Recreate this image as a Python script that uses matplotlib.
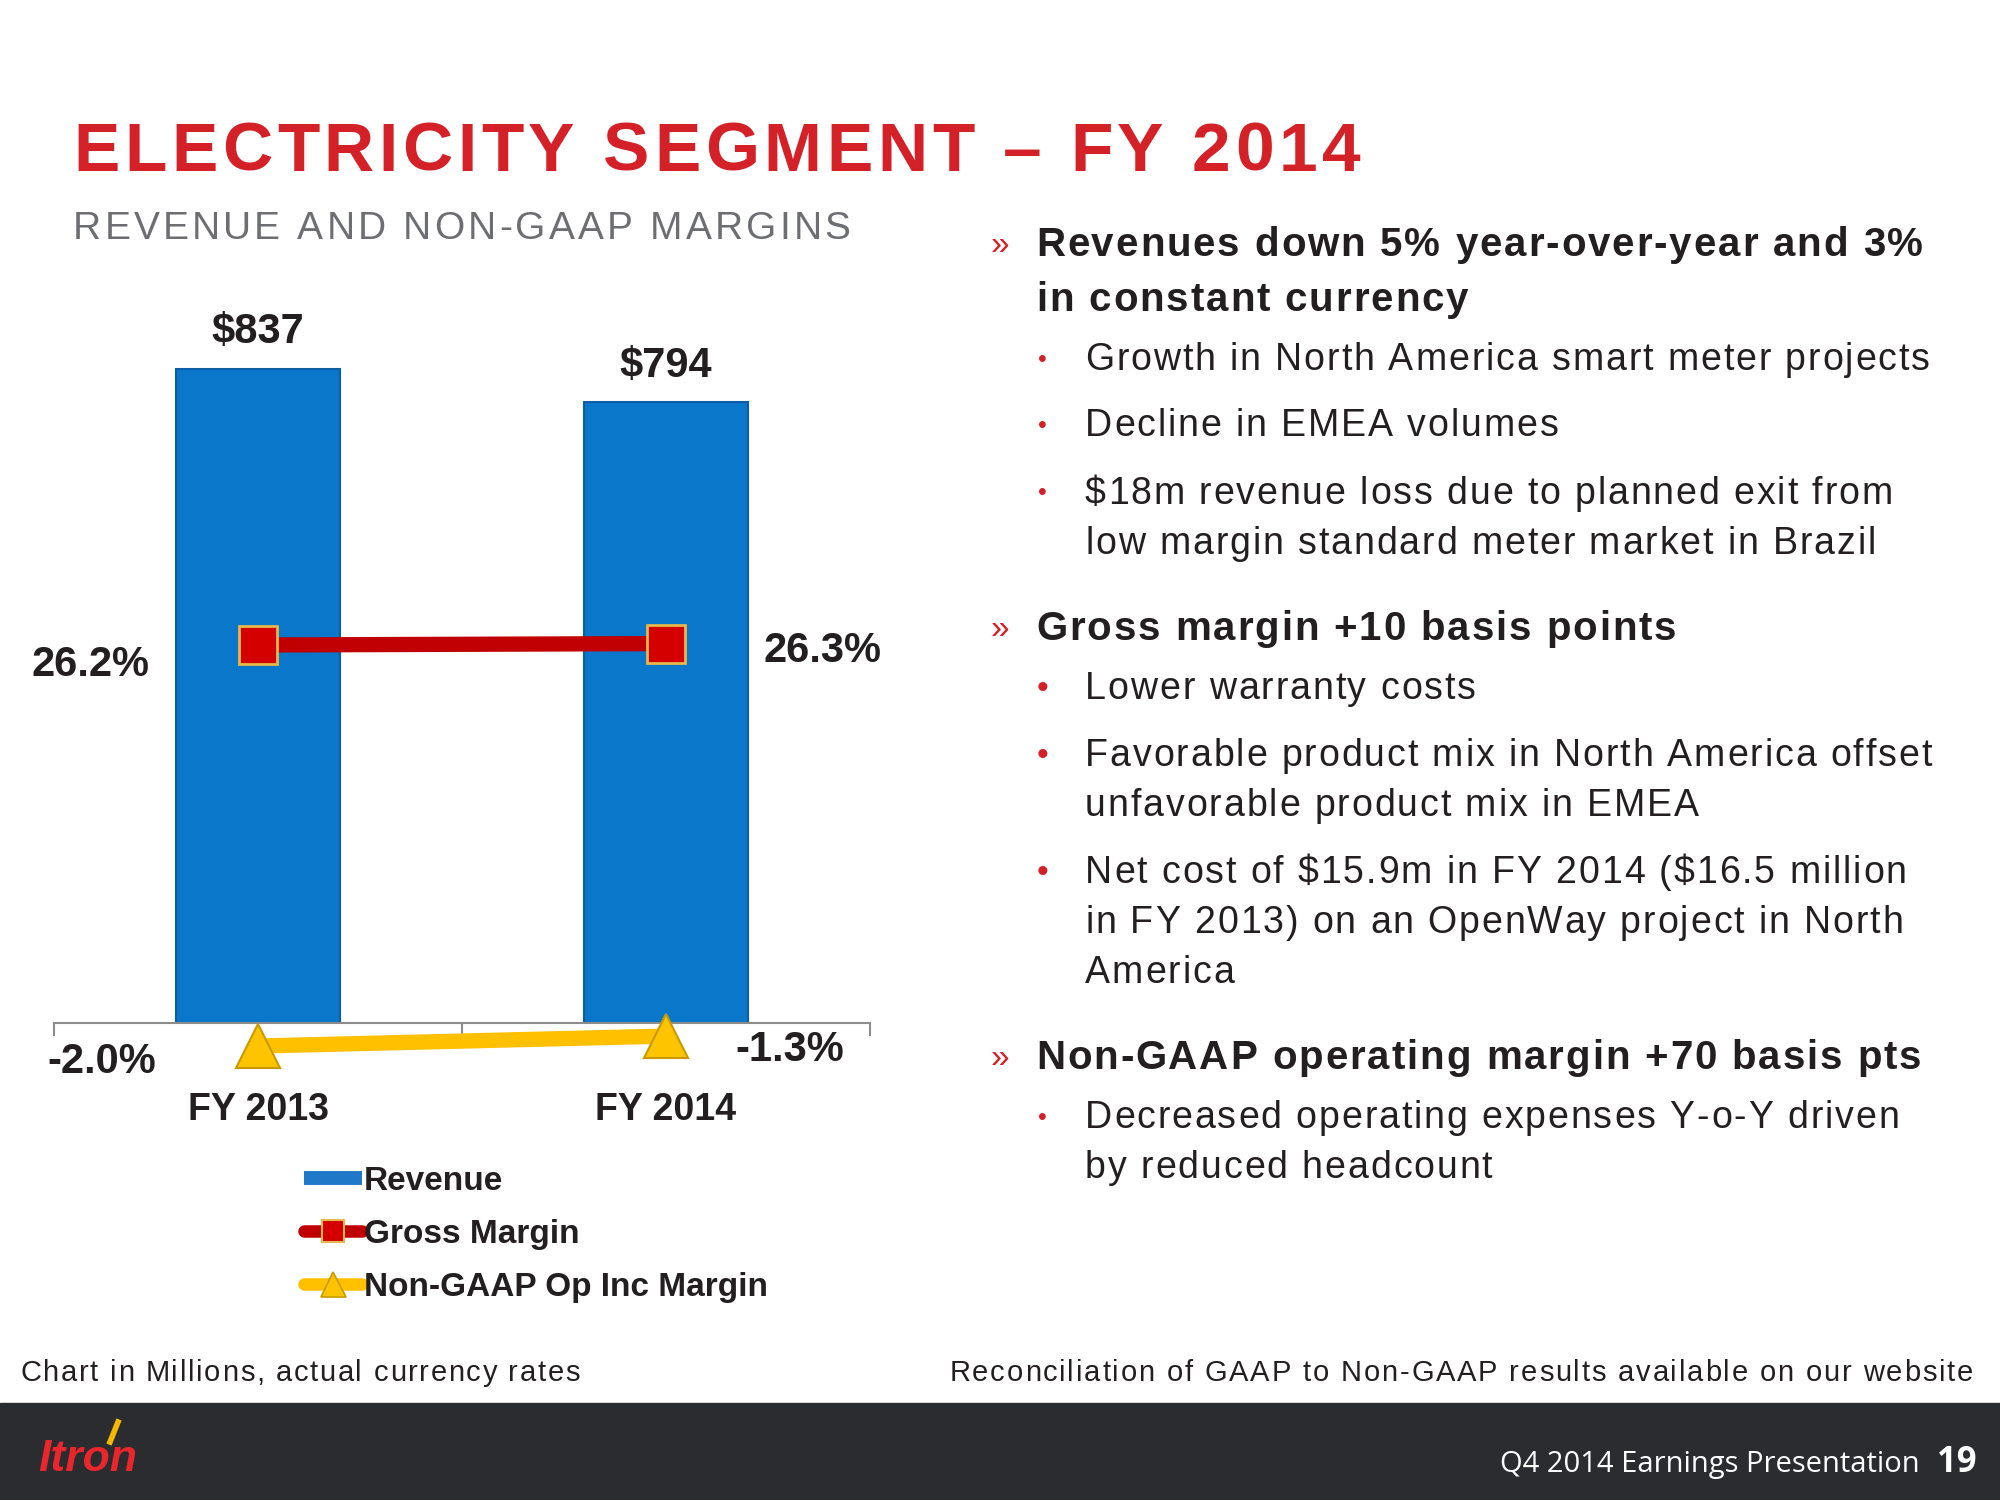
import matplotlib.pyplot as plt
from matplotlib.lines import Line2D
from matplotlib.patches import Rectangle
from matplotlib.font_manager import FontProperties, findfont
from matplotlib.ft2font import FT2Font

plt.rcParams['font.family'] = ['Liberation Sans', 'DejaVu Sans']
plt.rcParams['text.parse_math'] = False

# data
years = ["FY 2013", "FY 2014"]
revenue = [837, 794]            # $ millions
gross_margin = [26.2, 26.3]     # %
op_margin = [-2.0, -1.3]        # %

RED = "#D42128"
BLUE = "#0A77CA"
DARK = "#231F20"
GRAY = "#6D6E71"

W, H = 2000, 1500
DPI = 100


def fx(x):
    return x / W


def fy(y):
    return 1 - y / H


fig = plt.figure(figsize=(20, 15), dpi=DPI)


def tracked(x, y, s, size, track, weight="normal", ha="left", **kw):
    """Draw s with extra letter spacing (track, px). x,y in px, y = cap centre."""
    fp = FontProperties(family="Liberation Sans", weight=weight, size=size)
    font = FT2Font(findfont(fp))
    font.set_size(size, DPI)
    advs = [font.load_char(ord(c)).linearHoriAdvance / 65536 + track for c in s]
    if ha == "right":
        x = x - sum(advs) + track
    base = y + 0.358 * size * DPI / 72
    for c, a in zip(s, advs):
        if c != " ":
            fig.text(fx(x), fy(base), c, fontproperties=fp, va="baseline", **kw)
        x += a


# title block
tracked(73, 146, "ELECTRICITY SEGMENT \u2013 FY 2014", 50, 4.6,
        weight="bold", color=RED)
tracked(73, 225, "REVENUE AND NON-GAAP MARGINS", 28, 3.2, color=GRAY)

# chart
ax = fig.add_axes([fx(54), fy(1023), (870 - 54) / W, (1023 - 300) / H])
x = list(range(len(years)))
bars = ax.bar(x, revenue, width=0.4, color=BLUE, edgecolor="#0B5FA5",
              linewidth=1.5, zorder=2)
ax.set_xlim(-0.5, 1.5)
ax.set_ylim(0, 925)
ax.set_yticks([])
for s in ["top", "right", "left"]:
    ax.spines[s].set_visible(False)
ax.spines["bottom"].set_color("#8C8C8C")
ax.spines["bottom"].set_linewidth(1.5)
ax.set_xticks(x)
ax.set_xticklabels(years, fontsize=27, fontweight="bold", color=DARK)
ax.set_xticks([-0.5, 0.5, 1.5], minor=True)
ax.tick_params(axis="x", which="major", length=0, pad=50)
ax.tick_params(axis="x", which="minor", length=9, width=1.5, color="#8C8C8C")
ax.bar_label(bars, labels=[f"${v}" for v in revenue], padding=12,
             fontsize=30, fontweight="bold", color=DARK)

ax2 = ax.twinx()
ax2.set_ylim(-0.38, 50.46)
ax2.set_yticks([])
for s in ax2.spines.values():
    s.set_visible(False)

ax2.plot(x, gross_margin, color="#C00000", lw=11, marker="s", ms=27,
         mfc="#D40000", mec="#E6B84A", mew=2, clip_on=False, zorder=3)
ax2.plot(x, op_margin, color="#FFC000", lw=11, marker="^", ms=31,
         mfc="#FFC400", mec="#C99A00", mew=1.5, clip_on=False, zorder=3)

gm_offsets = [(-78, -11), (70, -2)]
op_offsets = [(-73, -8), (50, -7)]
for xi, v, off in zip(x, gross_margin, gm_offsets):
    ax2.annotate(f"{v:.1f}%", (xi, v), xytext=off, textcoords="offset points",
                 ha="right" if off[0] < 0 else "left", va="center_baseline",
                 fontsize=30, fontweight="bold", color=DARK, annotation_clip=False)
for xi, v, off in zip(x, op_margin, op_offsets):
    ax2.annotate(f"{v:.1f}%", (xi, v), xytext=off, textcoords="offset points",
                 ha="right" if off[0] < 0 else "left", va="center_baseline",
                 fontsize=30, fontweight="bold", color=DARK, annotation_clip=False)

# legend
handles = [
    Line2D([0], [0], color="#1F78C8", lw=10, solid_capstyle="butt"),
    Line2D([0], [0], color="#C00000", lw=9, solid_capstyle="round", marker="s",
           ms=16, mfc="#D40000", mec="#E6B84A", mew=1.5),
    Line2D([0], [0], color="#FFC000", lw=9, solid_capstyle="round", marker="^",
           ms=18, mfc="#FFC400", mec="#C99A00", mew=1.2),
]
fig.legend(handles, ["Revenue", "Gross Margin", "Non-GAAP Op Inc Margin"],
           loc="upper left", bbox_to_anchor=(fx(304), fy(1166)), frameon=False,
           prop={"weight": "bold", "size": 24}, handlelength=1.75,
           handletextpad=0.05, labelspacing=0.66, borderpad=0, borderaxespad=0,
           labelcolor=DARK)

# right-hand commentary
heads = [
    (242, ["Revenues down 5% year-over-year and 3%", "in constant currency"]),
    (626, ["Gross margin +10 basis points"]),
    (1055, ["Non-GAAP operating margin +70 basis pts"]),
]
subs = [
    (357, ["Growth in North America smart meter projects"], 18),
    (423, ["Decline in EMEA volumes"], 18),
    (491, ["$18m revenue loss due to planned exit from",
           "low margin standard meter market in Brazil"], 18),
    (686, ["Lower warranty costs"], 24),
    (753, ["Favorable product mix in North America offset",
           "unfavorable product mix in EMEA"], 24),
    (870, ["Net cost of $15.9m in FY 2014 ($16.5 million",
           "in FY 2013) on an OpenWay project in North", "America"], 24),
    (1115, ["Decreased operating expenses Y-o-Y driven",
            "by reduced headcount"], 18),
]
for y, lines in heads:
    fig.text(fx(991), fy(y), "\u00bb", color=RED, fontsize=24,
             va="center_baseline")
    for i, line in enumerate(lines):
        tracked(1036, y + 55 * i, line, 29, 1.9, weight="bold", color=DARK)
for y, lines, dot in subs:
    fig.text(fx(1042), fy(y), "\u2022", color=RED, fontsize=dot,
             ha="center", va="center_baseline")
    for i, line in enumerate(lines):
        tracked(1085, y + 50 * i, line, 27, 1.9, color=DARK)

# footnotes
tracked(20, 1371, "Chart in Millions, actual currency rates", 21, 1.7,
        color=DARK)
tracked(1973, 1371,
        "Reconciliation of GAAP to Non-GAAP results available on our website",
        21, 1.85, ha="right", color=DARK)

# footer band
fig.add_artist(Rectangle((0, 0), 1, 97 / H, transform=fig.transFigure,
                         color="#2B2C30", zorder=0))
fig.text(fx(38), fy(1455), "Itron", color="#E8262B", fontsize=32,
         fontweight="bold", style="italic", va="center_baseline")
fig.add_artist(Line2D([fx(118), fx(110)], [fy(1422), fy(1442)],
                      transform=fig.transFigure, color="#F5B800", lw=4))
fig.text(fx(1920), fy(1461), "Q4 2014 Earnings Presentation", color="white",
         fontsize=21, ha="right", va="center_baseline", family="Open Sans")
fig.text(fx(1977), fy(1458), "19", color="white", fontsize=25,
         fontweight="bold", ha="right", va="center_baseline", family="Open Sans")

fig.savefig("out.png", dpi=DPI)
